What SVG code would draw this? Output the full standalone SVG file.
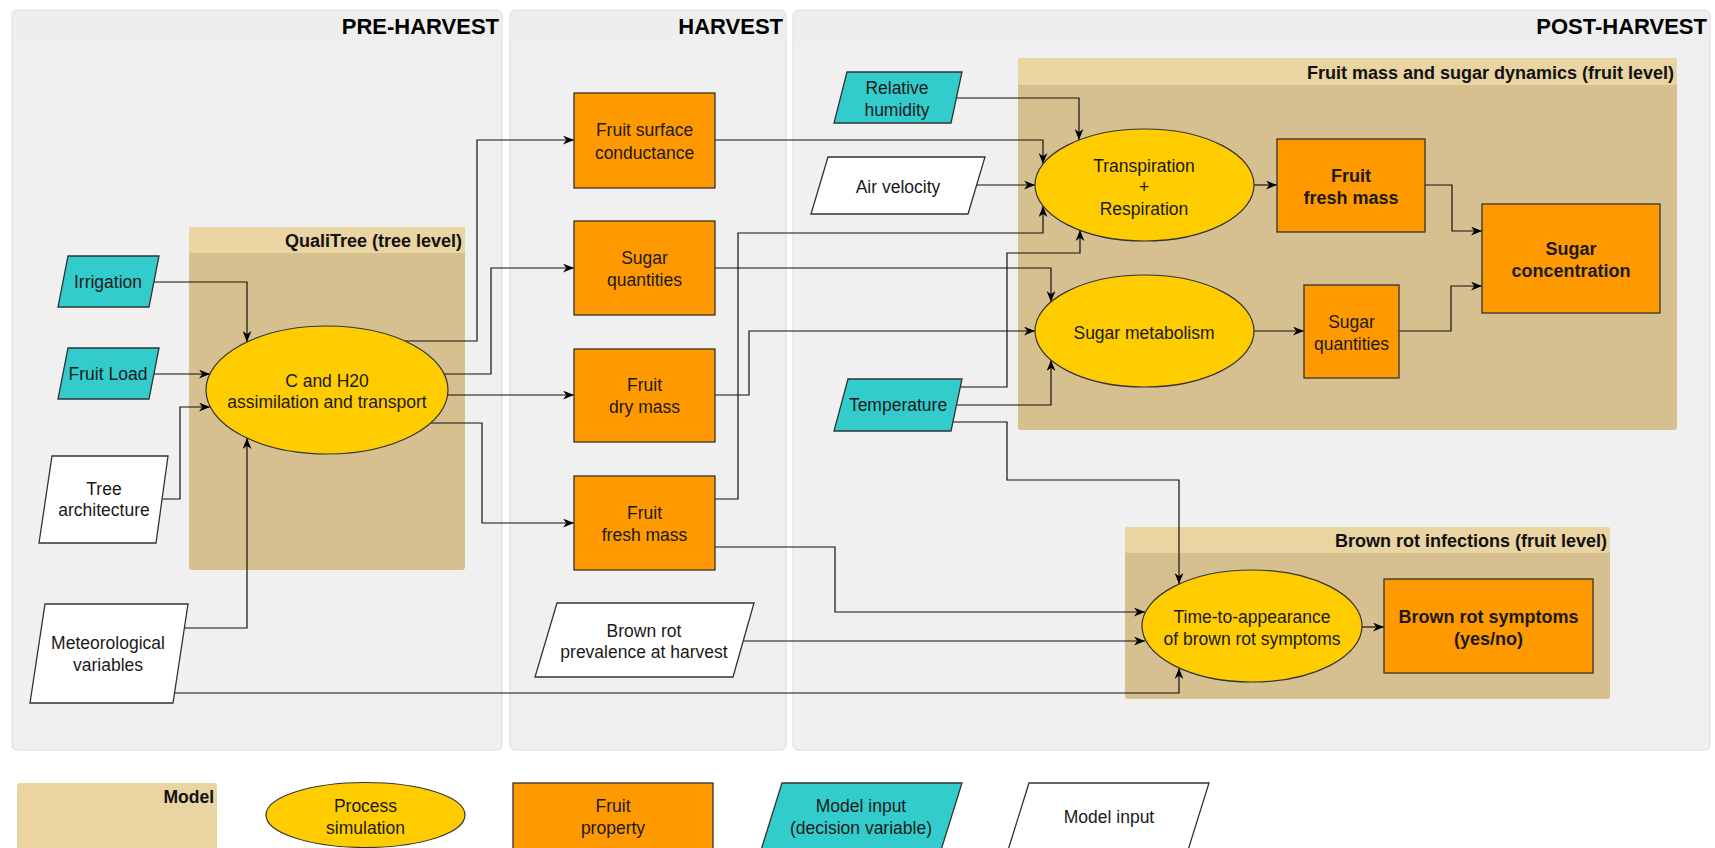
<svg xmlns="http://www.w3.org/2000/svg" width="1715" height="848" viewBox="0 0 1715 848">
<style>
text{font-family:"Liberation Sans",Arial,sans-serif;fill:#1a1a1a;font-size:17.5px;text-anchor:middle}
.b{font-weight:bold;font-size:18px}
.t{font-weight:bold;font-size:22px;text-anchor:end;fill:#000}
.h{font-weight:bold;font-size:18px;text-anchor:end;fill:#111}
.panel{fill:#f0f0f0;stroke:#dadada;stroke-width:1}
.phead{fill:#eeeeee}
.mbody{fill:#d7c08f}
.mhead{fill:#ead4a2}
.proc{fill:#ffcc00;stroke:#333;stroke-width:1.2}
.prop{fill:#ff9900;stroke:#333;stroke-width:1.3}
.dec{fill:#33cccc;stroke:#333;stroke-width:1.3}
.inp{fill:#fff;stroke:#333;stroke-width:1.3}
.c path{fill:none;stroke:#111;stroke-width:1.2;marker-end:url(#a)}
</style>
<defs>
<marker id="a" viewBox="0 0 10 8" refX="10" refY="4" markerWidth="11" markerHeight="9" markerUnits="userSpaceOnUse" orient="auto"><path d="M0,0 L10,4 L0,8 L3,4 z" fill="#000"/></marker>
</defs>
<rect width="1715" height="848" fill="#fff"/>

<g id="pre-harvest">
<rect class="panel" x="12" y="10" width="490" height="740" rx="5"/>
<rect class="phead" x="12.5" y="10.5" width="489" height="32" rx="4"/>
<text class="t" x="499" y="34">PRE-HARVEST</text>
</g>
<g id="harvest">
<rect class="panel" x="510" y="10" width="276" height="740" rx="5"/>
<rect class="phead" x="510.5" y="10.5" width="275" height="32" rx="4"/>
<text class="t" x="783" y="34">HARVEST</text>
</g>
<g id="post-harvest">
<rect class="panel" x="793" y="10" width="917" height="740" rx="5"/>
<rect class="phead" x="793.5" y="10.5" width="916" height="32" rx="4"/>
<text class="t" x="1707" y="34">POST-HARVEST</text>
</g>

<g id="qualitree">
<rect class="mbody" x="189" y="227" width="276" height="343" rx="3"/>
<rect class="mhead" x="189" y="227" width="276" height="26" rx="3"/>
<text class="h" x="462" y="247">QualiTree (tree level)</text>
</g>
<g id="fruit-mass-model">
<rect class="mbody" x="1018" y="58" width="659" height="372" rx="3"/>
<rect class="mhead" x="1018" y="58" width="659" height="27" rx="3"/>
<text class="h" x="1674" y="79">Fruit mass and sugar dynamics (fruit level)</text>
</g>
<g id="brown-rot-model">
<rect class="mbody" x="1125" y="527" width="485" height="172" rx="3"/>
<rect class="mhead" x="1125" y="527" width="485" height="26" rx="3"/>
<text class="h" x="1607" y="547">Brown rot infections (fruit level)</text>
</g>

<g class="c" id="connectors">
<path d="M154,282 H247 V342"/>
<path d="M154,374 H210"/>
<path d="M162,499 H180 V407 H210"/>
<path d="M184,628 H247 V438"/>
<path d="M405,341 H477 V140 H574"/>
<path d="M444,374 H491 V268 H574"/>
<path d="M448,395 H574"/>
<path d="M431,423 H482 V523 H574"/>
<path d="M715,140 H1043 V164"/>
<path d="M715,268 H1051 V302"/>
<path d="M715,395 H749 V331 H1035"/>
<path d="M715,499 H738 V233 H1043 V206"/>
<path d="M715,547 H835 V612 H1145"/>
<path d="M743,641 H1145"/>
<path d="M956,98 H1079 V140"/>
<path d="M977,185 H1035"/>
<path d="M960,387 H1007 V253 H1080 V230"/>
<path d="M957,405 H1051 V360"/>
<path d="M953,422 H1007 V480 H1179 V584"/>
<path d="M174,693 H1179 V668"/>
<path d="M1254,185 H1277"/>
<path d="M1254,331 H1304"/>
<path d="M1425,185 H1452 V231 H1482"/>
<path d="M1399,331 H1451 V286 H1482"/>
<path d="M1362,627 H1384"/>
</g>

<g id="irrigation">
<polygon class="dec" points="68,256 159,256 149,307 58,307"/>
<text x="108" y="288">Irrigation</text>
</g>
<g id="fruit-load">
<polygon class="dec" points="68,348 159,348 149,399 58,399"/>
<text x="108" y="380">Fruit Load</text>
</g>
<g id="tree-architecture">
<polygon class="inp" points="52,456 168,456 156,543 39,543"/>
<text x="104" y="495">Tree</text>
<text x="104" y="516">architecture</text>
</g>
<g id="meteorological">
<polygon class="inp" points="45,604 188,604 173,703 30,703"/>
<text x="108" y="649">Meteorological</text>
<text x="108" y="671">variables</text>
</g>
<g id="c-h2o">
<ellipse class="proc" cx="327" cy="390" rx="121" ry="64"/>
<text x="327" y="387">C and H20</text>
<text x="327" y="408">assimilation and transport</text>
</g>

<g id="fruit-surface-conductance">
<rect class="prop" x="574" y="93" width="141" height="95"/>
<text x="644.5" y="136">Fruit surface</text>
<text x="644.5" y="159">conductance</text>
</g>
<g id="sugar-quantities-h">
<rect class="prop" x="574" y="221" width="141" height="94"/>
<text x="644.5" y="264">Sugar</text>
<text x="644.5" y="286">quantities</text>
</g>
<g id="fruit-dry-mass">
<rect class="prop" x="574" y="349" width="141" height="93"/>
<text x="644.5" y="391">Fruit</text>
<text x="644.5" y="413">dry mass</text>
</g>
<g id="fruit-fresh-mass-h">
<rect class="prop" x="574" y="476" width="141" height="94"/>
<text x="644.5" y="519">Fruit</text>
<text x="644.5" y="541">fresh mass</text>
</g>
<g id="brown-rot-prevalence">
<polygon class="inp" points="557,603 754,603 733,677 535,677"/>
<text x="644" y="637">Brown rot</text>
<text x="644" y="658">prevalence at harvest</text>
</g>

<g id="relative-humidity">
<polygon class="dec" points="847,72 962,72 951,123 834,123"/>
<text x="897" y="94">Relative</text>
<text x="897" y="116">humidity</text>
</g>
<g id="air-velocity">
<polygon class="inp" points="828,157 985,157 968,214 811,214"/>
<text x="898" y="193">Air velocity</text>
</g>
<g id="temperature">
<polygon class="dec" points="848,379 962,379 951,431 834,431"/>
<text x="898" y="411">Temperature</text>
</g>

<g id="transpiration">
<ellipse class="proc" cx="1144.5" cy="185" rx="109.5" ry="56"/>
<text x="1144" y="172">Transpiration</text>
<text x="1144" y="193">+</text>
<text x="1144" y="215">Respiration</text>
</g>
<g id="sugar-metabolism">
<ellipse class="proc" cx="1144.5" cy="331" rx="109.5" ry="56"/>
<text x="1144" y="339">Sugar metabolism</text>
</g>
<g id="fruit-fresh-mass-p">
<rect class="prop" x="1277" y="139" width="148" height="93"/>
<text class="b" x="1351" y="182">Fruit</text>
<text class="b" x="1351" y="204">fresh mass</text>
</g>
<g id="sugar-quantities-p">
<rect class="prop" x="1304" y="285" width="95" height="93"/>
<text x="1351.5" y="328">Sugar</text>
<text x="1351.5" y="350">quantities</text>
</g>
<g id="sugar-concentration">
<rect class="prop" x="1482" y="204" width="178" height="109"/>
<text class="b" x="1571" y="255">Sugar</text>
<text class="b" x="1571" y="277">concentration</text>
</g>

<g id="time-to-appearance">
<ellipse class="proc" cx="1252" cy="626" rx="110" ry="56"/>
<text x="1252" y="623">Time-to-appearance</text>
<text x="1252" y="645">of brown rot symptoms</text>
</g>
<g id="brown-rot-symptoms">
<rect class="prop" x="1384" y="579" width="209" height="94"/>
<text class="b" x="1488.5" y="623">Brown rot symptoms</text>
<text class="b" x="1488.5" y="645">(yes/no)</text>
</g>

<g id="legend">
<g id="legend-model">
<rect class="mhead" x="17" y="783" width="200" height="80" rx="3"/>
<text class="h" x="214" y="803" style="font-size:17.5px">Model</text>
</g>
<g id="legend-process">
<ellipse class="proc" cx="365.5" cy="815" rx="99.5" ry="32.5"/>
<text x="365.5" y="812">Process</text>
<text x="365.5" y="834">simulation</text>
</g>
<g id="legend-property">
<rect class="prop" x="513" y="783" width="200" height="80"/>
<text x="613" y="812">Fruit</text>
<text x="613" y="834">property</text>
</g>
<g id="legend-decision">
<polygon class="dec" points="782,783 962,783 937,863 757,863"/>
<text x="861" y="812">Model input</text>
<text x="861" y="834">(decision variable)</text>
</g>
<g id="legend-input">
<polygon class="inp" points="1029,783 1209,783 1184,863 1004,863"/>
<text x="1109" y="823">Model input</text>
</g>
</g>
</svg>
